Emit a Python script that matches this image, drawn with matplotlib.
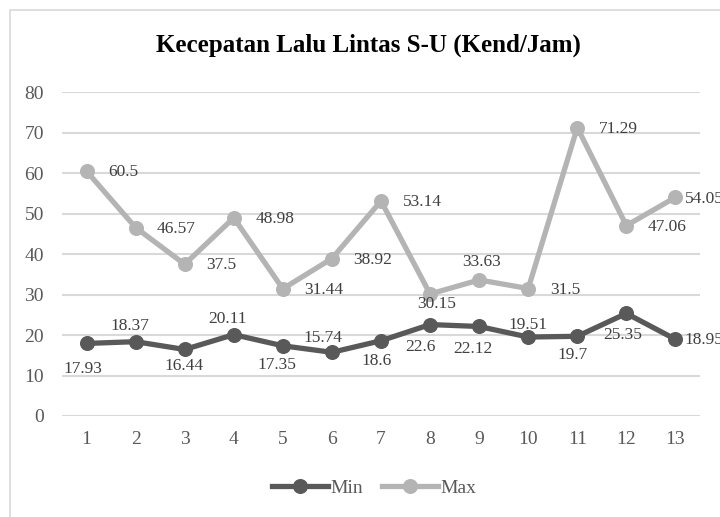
import matplotlib
matplotlib.use("Agg")
import matplotlib.pyplot as plt
from matplotlib.lines import Line2D
from matplotlib.patches import Rectangle

# ---- data ----
categories = [str(i) for i in range(1, 14)]
min_values = [17.93, 18.37, 16.44, 20.11, 17.35, 15.74, 18.6, 22.6, 22.12, 19.51, 19.7, 25.35, 18.95]
max_values = [60.5, 46.57, 37.5, 48.98, 31.44, 38.92, 53.14, 30.15, 33.63, 31.5, 71.29, 47.06, 54.05]
y_ticks = [0, 10, 20, 30, 40, 50, 60, 70, 80]
title = "Kecepatan Lalu Lintas S-U (Kend/Jam)"

# label placement (pixel offsets from the point, ha)
max_label_pos = [(21.5, 1, "left")] * 7 + [(6.7, 10.3, "center"), (2.7, -17.6, "center"),
                                           (21.5, 1, "left"), (21.5, 1, "left"), (21.5, 1, "left"),
                                           (9.3, 2, "left")]
min_label_pos = [(-3.7, 25.6, "center"), (-5.3, -15.7, "center"), (-0.4, 16.7, "center"),
                 (-6.7, -15.3, "center"), (-6, 19.3, "center"), (-9.4, -14.4, "center"),
                 (-4.4, 20, "center"), (-10, 22, "center"), (-6.4, 22.3, "center"),
                 (-0.3, -12, "center"), (-5, 19, "center"), (-3.3, 21.6, "center"),
                 (9.3, 1, "left")]

plt.rcParams['font.family'] = ['Liberation Serif', 'DejaVu Serif']

MIN_C = "#595959"
MAX_C = "#b4b4b4"
GRID_C = "#d9d9d9"
TXT_C = "#595959"
LBL_C = "#404040"

fig = plt.figure(figsize=(7.2, 5.17), dpi=100)
W, H = 720, 517
ax = fig.add_axes([62 / W, 1 - 416 / H, (700 - 62) / W, (416 - 92.3) / H])

# outer chart border
fig.patches.append(Rectangle((10 / W, -0.1), 1.2, 1 - 10 / H + 0.1, transform=fig.transFigure,
                             fill=False, edgecolor=GRID_C, linewidth=1.2))

x = list(range(1, len(categories) + 1))
ax.plot(x, max_values, color=MAX_C, linewidth=3.8, marker="o", markersize=9.8, zorder=3,
        solid_capstyle="round", solid_joinstyle="round")
ax.plot(x, min_values, color=MIN_C, linewidth=3.8, marker="o", markersize=9.8, zorder=4,
        solid_capstyle="round", solid_joinstyle="round")

for xi, v, (dx, dy, ha) in zip(x, max_values, max_label_pos):
    ax.annotate(f"{v:g}", (xi, v), xytext=(dx, -dy), textcoords="offset pixels",
                ha=ha, va="center", fontsize=12.5, color=LBL_C, zorder=5, annotation_clip=False)
for xi, v, (dx, dy, ha) in zip(x, min_values, min_label_pos):
    ax.annotate(f"{v:g}", (xi, v), xytext=(dx, -dy), textcoords="offset pixels",
                ha=ha, va="center", fontsize=12.5, color=LBL_C, zorder=5, annotation_clip=False)

ax.set_xlim(0.5, len(categories) + 0.5)
ax.set_ylim(0, 80)
ax.set_yticks(y_ticks)
ax.set_xticks(x)
ax.set_xticklabels(categories)
ax.grid(axis="y", color=GRID_C, linewidth=1.5)
ax.set_axisbelow(True)
for s in ax.spines.values():
    s.set_visible(False)
ax.tick_params(axis="both", length=0, labelsize=14, colors=TXT_C)
ax.tick_params(axis="y", pad=13)
ax.tick_params(axis="x", pad=11)
ax.set_facecolor("none")

fig.text(0.512, 1 - 45 / H, title, ha="center", va="center", fontsize=18,
         fontweight="bold", color="black")

handles = [Line2D([], [], color=MIN_C, linewidth=3.8, marker="o", markersize=9.8),
           Line2D([], [], color=MAX_C, linewidth=3.8, marker="o", markersize=9.8)]
fig.legend(handles, ["Min", "Max"], loc="center", bbox_to_anchor=(374 / W, 1 - 488 / H),
           ncol=2, frameon=False, fontsize=14, handlelength=2.9, handletextpad=0.1,
           columnspacing=1.0, labelcolor=TXT_C)

fig.savefig("out.png", dpi=100)
